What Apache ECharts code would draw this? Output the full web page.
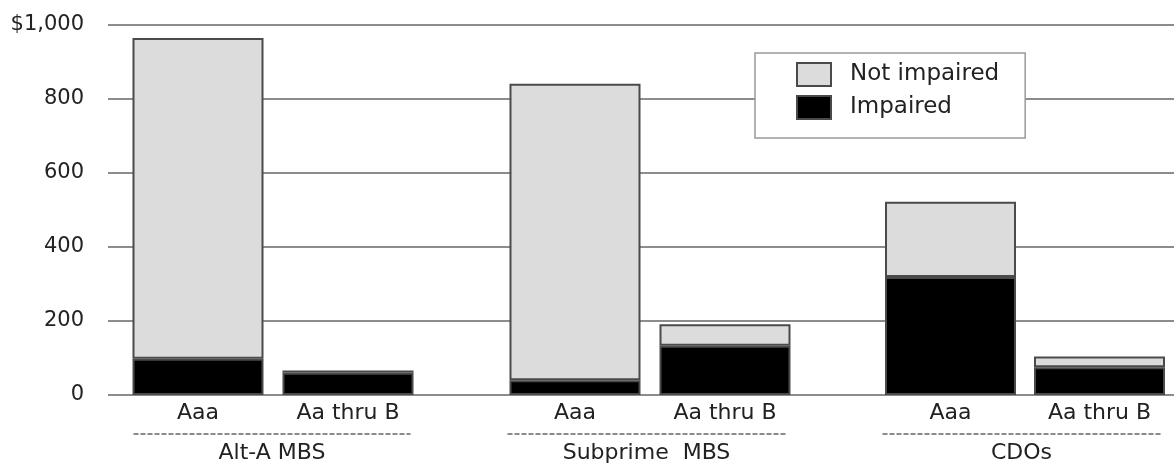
<!DOCTYPE html>
<html>
<head>
<meta charset="utf-8">
<script src="https://cdn.jsdelivr.net/npm/echarts@6/dist/echarts.min.js"></script>
<style>html,body{margin:0;padding:0;background:#fff}#c{width:1174px;height:464px}</style>
</head>
<body>
<div id="c"></div>
<script>
// ---- data ----
const groups = ['Alt-A MBS', 'Subprime  MBS', 'CDOs'];
const ratings = ['Aaa', 'Aa thru B'];
// values per bar, in order: Alt-A Aaa, Alt-A Aa-B, Subprime Aaa, Subprime Aa-B, CDO Aaa, CDO Aa-B
const impaired    = [98, 60, 40, 133, 319, 75];
const notImpaired = [867, 6, 801, 58, 203, 29];
const yTickLabels = ['0', '200', '400', '600', '800', '$1,000'];

const FONT = 'DejaVu Sans';
const TXT = '#222';
const barGridLefts = [123, 500, 876];
const labelGrids = [[134, 276], [508, 277], [883, 277]];

const grid = [{left: 108, right: 0, top: 25, bottom: 69}];
const xAxis = [{type: 'category', gridIndex: 0, data: [], show: false}];
const yAxis = [{
  type: 'value', gridIndex: 0, min: 0, max: 1000, interval: 200,
  axisLine: {show: false}, axisTick: {show: false},
  splitLine: {lineStyle: {color: '#666', width: 1.5}},
  axisLabel: {
    margin: 24, color: TXT, fontFamily: FONT, fontSize: 21,
    formatter: v => yTickLabels[Math.round(v / 200)]
  }
}];
const series = [];

groups.forEach((g, i) => {
  grid.push({left: barGridLefts[i], width: 300, top: 25, bottom: 69});
  const gi = grid.length - 1;
  xAxis.push({
    type: 'category', gridIndex: gi, data: ratings,
    axisLine: {show: false}, axisTick: {show: false},
    axisLabel: {margin: 7, color: TXT, fontFamily: FONT, fontSize: 22}
  });
  yAxis.push({type: 'value', gridIndex: gi, min: 0, max: 1000, show: false, splitLine: {show: false}});
  const common = {
    type: 'bar', xAxisIndex: gi, yAxisIndex: gi, stack: 's' + i, barWidth: 131,
    emphasis: {disabled: true}
  };
  series.push(Object.assign({}, common, {
    name: 'Impaired', data: impaired.slice(2 * i, 2 * i + 2),
    itemStyle: {color: '#000', borderColor: '#4a4a4a', borderWidth: 2}
  }));
  series.push(Object.assign({}, common, {
    name: 'Not impaired', data: notImpaired.slice(2 * i, 2 * i + 2),
    itemStyle: {color: '#dcdcdc', borderColor: '#4a4a4a', borderWidth: 2}
  }));
});

groups.forEach((g, i) => {
  grid.push({left: labelGrids[i][0], width: labelGrids[i][1], top: 25, bottom: 69});
  const gi = grid.length - 1;
  xAxis.push({
    type: 'category', gridIndex: gi, data: [g], offset: 39, position: 'bottom',
    axisLine: {show: true, onZero: false, lineStyle: {color: '#666', width: 1.5, type: [4, 3]}},
    axisTick: {show: false},
    axisLabel: {margin: 8, color: TXT, fontFamily: FONT, fontSize: 22}
  });
  yAxis.push({type: 'value', gridIndex: gi, min: 0, max: 1000, show: false, splitLine: {show: false}});
});

const chart = echarts.init(document.getElementById('c'), null, {renderer: 'canvas'});
chart.setOption({
  animation: false,
  backgroundColor: '#fff',
  grid, xAxis, yAxis, series,
  legend: {
    data: [{name: 'Not impaired', icon: 'rect'}, {name: 'Impaired', icon: 'rect'}],
    orient: 'vertical', left: 755, top: 53,
    padding: [9, 26, 18, 41], itemGap: 8,
    itemWidth: 34, itemHeight: 23,
    backgroundColor: '#fff', borderColor: '#999', borderWidth: 1.5,
    selectedMode: false,
    textStyle: {color: TXT, fontFamily: FONT, fontSize: 23, padding: [0, 0, 0, 14]}
  }
});
</script>
</body>
</html>
